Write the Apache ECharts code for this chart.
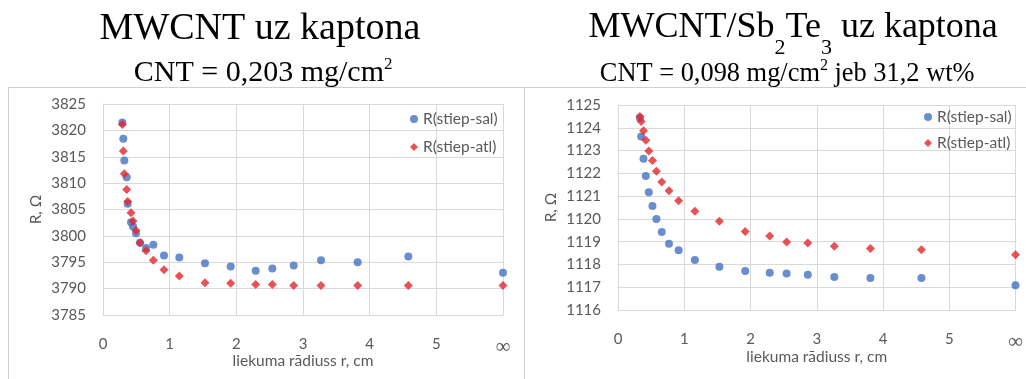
<!DOCTYPE html>
<html>
<head>
<meta charset="utf-8">
<script src="https://cdn.jsdelivr.net/npm/echarts@6/dist/echarts.min.js"></script>
<style>
  html, body { margin: 0; padding: 0; background: #fff; }
  #main { width: 1026px; height: 379px; }
</style>
</head>
<body>
<div id="main"></div>
<script>
// MWCNT uz kaptona
var xLeft = [0.29, 0.305, 0.32, 0.355, 0.37, 0.42, 0.45, 0.495, 0.555, 0.645, 0.755, 0.915, 1.145, 1.53, 1.915, 2.29, 2.54, 2.86, 3.27, 3.82, 4.58, 6];
var salLeft = [3821.5, 3818.4, 3814.3, 3811.1, 3806.1, 3802.6, 3801.8, 3800.5, 3798.7, 3797.7, 3798.3, 3796.3, 3795.9, 3794.8, 3794.2, 3793.4, 3793.8, 3794.4, 3795.4, 3795.0, 3796.1, 3793.0];
var atlLeft = [3821.1, 3816.1, 3811.8, 3808.8, 3806.5, 3804.4, 3802.8, 3801.0, 3798.7, 3797.2, 3795.4, 3793.6, 3792.4, 3791.1, 3791.0, 3790.8, 3790.8, 3790.6, 3790.6, 3790.6, 3790.6, 3790.6];

// MWCNT/Sb2Te3 uz kaptona
var xRight = [0.33, 0.35, 0.385, 0.42, 0.465, 0.52, 0.58, 0.66, 0.77, 0.915, 1.16, 1.53, 1.92, 2.29, 2.545, 2.865, 3.265, 3.81, 4.58, 6];
var salRight = [1124.43, 1123.62, 1122.64, 1121.88, 1121.17, 1120.57, 1120.0, 1119.42, 1118.91, 1118.62, 1118.2, 1117.9, 1117.71, 1117.64, 1117.6, 1117.55, 1117.45, 1117.4, 1117.4, 1117.09];
var atlRight = [1124.5, 1124.28, 1123.87, 1123.45, 1122.98, 1122.56, 1122.09, 1121.62, 1121.24, 1120.8, 1120.33, 1119.9, 1119.45, 1119.25, 1118.99, 1118.94, 1118.8, 1118.7, 1118.65, 1118.43];

var seriesNames = ['R(stiep-sal)', 'R(stiep-atl)'];
var xName = 'liekuma rādiuss r, cm';
var yName = 'R, Ω';

var pairs = function (xs, ys) {
  var out = [];
  for (var i = 0; i < xs.length; i++) out.push([xs[i], ys[i]]);
  return out;
};

var serif = 'Liberation Serif';
var sans = 'Lato';
var gray = '#595959';
var gridCol = '#d9d9d9';
var blue = '#4472C4';
var red = '#E3262B';

// big title: main text hangs from the top, subscripts sit on the bottom of a taller line
function titleRich(size, subSize, strut) {
  return {
    m: { fontFamily: serif, fontWeight: 'normal', fontSize: size, lineHeight: size, color: '#000', verticalAlign: 'top' },
    sub: { fontFamily: serif, fontWeight: 'normal', fontSize: subSize, lineHeight: subSize, color: '#000', verticalAlign: 'bottom' },
    s: { fontSize: 1, lineHeight: strut, verticalAlign: 'top' }
  };
}
// subtitle: main text on the bottom, superscript at the top
function subRich(size, supSize, strut) {
  return {
    m: { fontFamily: serif, fontWeight: 'normal', fontSize: size, lineHeight: size, color: '#000', verticalAlign: 'bottom' },
    sup: { fontFamily: serif, fontWeight: 'normal', fontSize: supSize, lineHeight: supSize, color: '#000', verticalAlign: 'top' },
    s: { fontSize: 1, lineHeight: strut, verticalAlign: 'top' }
  };
}

function xAxisFor(idx, gap) {
  return {
    gridIndex: idx, type: 'value', min: 0, max: 6, interval: 1,
    name: xName, nameLocation: 'middle', nameGap: gap, nameMoveOverlap: false,
    nameTextStyle: { fontFamily: sans, fontSize: 15.5, color: gray },
    axisLine: { lineStyle: { color: gridCol } },
    axisTick: { show: false },
    splitLine: { lineStyle: { color: gridCol } },
    axisLabel: {
      margin: 22, fontFamily: sans, fontSize: 15, color: gray,
      formatter: function (v) { return v === 6 ? '{inf|∞}' : String(v); },
      rich: { inf: { fontFamily: serif, fontSize: 21, color: gray } }
    }
  };
}
function yAxisFor(idx, min, max, step) {
  return {
    gridIndex: idx, type: 'value', min: min, max: max, interval: step,
    name: yName, nameLocation: 'middle', nameGap: 59,
    nameTextStyle: { fontFamily: sans, fontSize: 15.5, color: gray },
    axisLine: { show: true, lineStyle: { color: gridCol } },
    axisTick: { show: false },
    splitLine: { lineStyle: { color: gridCol } },
    axisLabel: { margin: 17, fontFamily: sans, fontSize: 15, color: gray, formatter: function (v) { return String(v); } }
  };
}

var legendText = { fontFamily: sans, fontSize: 15.5, color: gray, lineHeight: 16 };
var legendData = [{ name: seriesNames[0], icon: 'circle' }, { name: seriesNames[1], icon: 'diamond' }];

var myChart = echarts.init(document.getElementById('main'));

var option = {
  animation: false,
  backgroundColor: '#fff',
  title: [
    { text: '{m|MWCNT uz kaptona}', left: 255, top: 5, textAlign: 'center', textStyle: { rich: titleRich(38, 23, 38) } },
    { text: '{s| }{m|CNT = 0,203 mg/cm}{sup|2}', left: 258, top: 51, textAlign: 'center', textStyle: { rich: subRich(30, 17, 32) } },
    { text: '{s| }{m|MWCNT/Sb}{sub|2}{m|Te}{sub|3}{m| uz kaptona}', left: 788, top: 5, textAlign: 'center', textStyle: { rich: titleRich(36, 22, 49) } },
    { text: '{s| }{m|CNT = 0,098 mg/cm}{sup|2}{m| jeb 31,2 wt%}', left: 782, top: 53, textAlign: 'center', textStyle: { rich: subRich(26.4, 16, 29) } }
  ],
  legend: [
    { orient: 'vertical', left: 405, top: 106, itemGap: 12, itemWidth: 8, itemHeight: 8, textStyle: legendText, data: legendData },
    { orient: 'vertical', left: 919, top: 104, itemGap: 10, itemWidth: 8, itemHeight: 8, textStyle: legendText, data: legendData }
  ],
  grid: [
    { left: 103, top: 104, width: 400, height: 211 },
    { left: 618, top: 105, width: 401, height: 205 }
  ],
  xAxis: [xAxisFor(0, 38), xAxisFor(1, 39)],
  yAxis: [yAxisFor(0, 3785, 3825, 5), yAxisFor(1, 1116, 1125, 1)],
  graphic: [
    { type: 'line', shape: { x1: 8, y1: 87.5, x2: 1026, y2: 87.5 }, style: { stroke: '#d0d0d0', lineWidth: 1 } },
    { type: 'line', shape: { x1: 8.5, y1: 87, x2: 8.5, y2: 379 }, style: { stroke: '#d0d0d0', lineWidth: 1 } },
    { type: 'line', shape: { x1: 524.5, y1: 87, x2: 524.5, y2: 379 }, style: { stroke: '#d0d0d0', lineWidth: 1 } }
  ],
  series: [
    { name: seriesNames[0], type: 'scatter', xAxisIndex: 0, yAxisIndex: 0, symbol: 'circle', symbolSize: 8, itemStyle: { color: blue }, data: pairs(xLeft, salLeft) },
    { name: seriesNames[1], type: 'scatter', xAxisIndex: 0, yAxisIndex: 0, symbol: 'diamond', symbolSize: 9, itemStyle: { color: red }, data: pairs(xLeft, atlLeft) },
    { name: seriesNames[0], type: 'scatter', xAxisIndex: 1, yAxisIndex: 1, symbol: 'circle', symbolSize: 8, itemStyle: { color: blue }, data: pairs(xRight, salRight) },
    { name: seriesNames[1], type: 'scatter', xAxisIndex: 1, yAxisIndex: 1, symbol: 'diamond', symbolSize: 9, itemStyle: { color: red }, data: pairs(xRight, atlRight) }
  ]
};

myChart.setOption(option);
</script>
</body>
</html>
